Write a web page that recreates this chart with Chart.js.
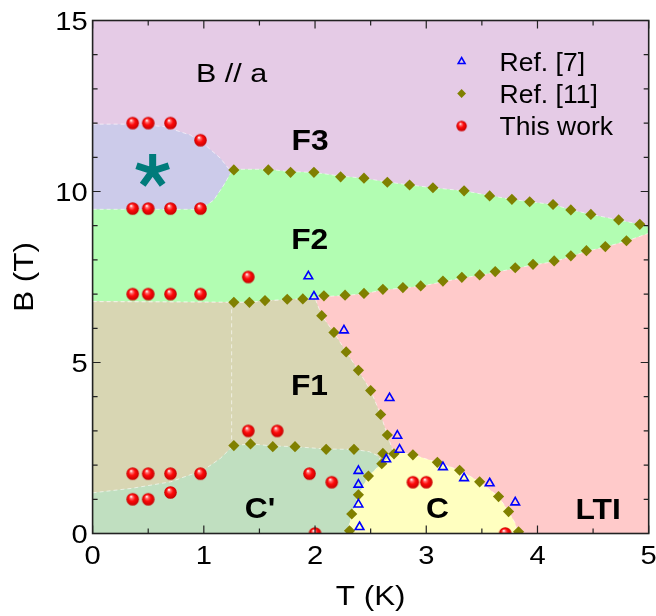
<!DOCTYPE html>
<html>
<head>
<meta charset="utf-8">
<script src="https://cdn.jsdelivr.net/npm/chart.js@4.4.1/dist/chart.umd.min.js"></script>
<style>
  html, body { margin: 0; padding: 0; background: #fff; }
</style>
</head>
<body>
<canvas id="phase" width="656" height="616"></canvas>
<script>
// ---- measured points: temperature T (K), field B (T) ----
const thisWorkT = [0.36, 0.50, 0.70, 0.97, 0.36, 0.50, 0.70, 0.97, 1.40, 0.36, 0.50, 0.70, 0.97,
                   1.40, 1.66, 0.36, 0.50, 0.70, 0.97, 1.95, 2.15, 0.36, 0.50, 0.70, 2.00, 2.88, 3.00, 3.71];
const thisWorkB = [12.0, 12.0, 12.0, 11.5, 9.5, 9.5, 9.5, 9.5, 7.5, 7.0, 7.0, 7.0, 7.0,
                   3.0, 3.0, 1.75, 1.75, 1.75, 1.75, 1.75, 1.5, 1.0, 1.0, 1.2, 0, 1.5, 1.5, 0];

const ref7T = [1.94, 1.99, 2.26, 2.67, 2.74, 2.76, 2.64, 2.39, 2.39, 2.39, 2.40, 3.15, 3.34, 3.57, 3.80];
const ref7B = [7.52, 6.93, 5.94, 3.96, 2.86, 2.45, 2.17, 1.83, 1.43, 0.85, 0.19, 1.94, 1.62, 1.47, 0.91];

const ref11T = [
  // F3 / F2
  1.27, 1.58, 1.78, 1.99, 2.23, 2.44, 2.65, 2.85, 3.06, 3.34, 3.57, 3.77, 3.93, 4.14, 4.30, 4.48, 4.73, 4.92,
  // F2 / F1, F2 / LTI
  1.27, 1.41, 1.55, 1.75, 1.89, 2.08, 2.27, 2.44, 2.61, 2.79, 2.95, 3.15, 3.32, 3.48, 3.62, 3.80, 3.96, 4.15, 4.30, 4.44, 4.61, 4.80,
  // F1 / LTI
  2.06, 2.17, 2.28, 2.39, 2.50, 2.59, 2.65, 2.71, 2.61, 2.60,
  // F1 / C'
  1.27, 1.42, 1.62, 1.82, 2.10, 2.35,
  // C' / C
  2.48, 2.39, 2.33, 2.31,
  // C / LTI
  2.88, 3.10, 3.30, 3.48, 3.65, 3.74, 3.83
];
const ref11B = [
  10.63, 10.63, 10.56, 10.56, 10.43, 10.39, 10.27, 10.19, 10.11, 10.02, 9.87, 9.77, 9.70, 9.62, 9.46, 9.33, 9.17, 9.04,
  6.76, 6.76, 6.81, 6.85, 6.86, 6.95, 6.97, 7.02, 7.14, 7.19, 7.24, 7.38, 7.49, 7.56, 7.66, 7.77, 7.87, 7.97, 8.12, 8.27, 8.39, 8.56,
  6.37, 5.88, 5.31, 4.77, 4.18, 3.48, 2.88, 2.33, 2.34, 2.04,
  2.57, 2.62, 2.54, 2.54, 2.46, 2.46,
  1.68, 1.13, 0.57, 0.08,
  2.30, 2.08, 1.85, 1.51, 1.08, 0.64, 0.05
];

// ---- phase boundaries (upper edge of each shaded phase) ----
const f3TopT = [0, 5];
const f3TopB = [15, 15];

const starTopT = [0, 0.34, 0.64, 0.88, 1.03, 1.15, 1.22, 1.27];
const starTopB = [11.97, 11.97, 11.9, 11.65, 11.31, 10.97, 10.68, 10.63];

const f2TopT = [0, 0.97, 1.09, 1.18, 1.24, 1.27, 1.58, 1.78, 1.99, 2.23, 2.44, 2.65, 2.85, 3.06, 3.34, 3.57, 3.77, 3.93, 4.14, 4.30, 4.48, 4.73, 4.92, 5];
const f2TopB = [9.48, 9.48, 9.75, 10.19, 10.53, 10.65, 10.65, 10.58, 10.56, 10.45, 10.39, 10.28, 10.19, 10.11, 10.02, 9.88, 9.77, 9.70, 9.62, 9.47, 9.33, 9.17, 9.04, 8.97];

const ltiTopT = [0, 1.27, 1.41, 1.55, 1.75, 1.89, 2.08, 2.27, 2.44, 2.61, 2.79, 2.95, 3.15, 3.32, 3.48, 3.62, 3.80, 3.96, 4.15, 4.30, 4.44, 4.61, 4.80, 5];
const ltiTopB = [6.78, 6.76, 6.76, 6.80, 6.84, 6.86, 6.93, 6.96, 7.01, 7.12, 7.18, 7.23, 7.36, 7.47, 7.55, 7.64, 7.75, 7.85, 7.95, 8.10, 8.25, 8.38, 8.55, 8.78];

const f1TopT = [0, 1.27, 1.41, 1.55, 1.75, 1.89, 2.00, 2.06, 2.17, 2.28, 2.39, 2.50, 2.59, 2.65, 2.71];
const f1TopB = [6.78, 6.76, 6.76, 6.80, 6.84, 6.86, 6.88, 6.37, 5.88, 5.31, 4.77, 4.18, 3.48, 2.88, 2.33];

const cpTopT = [0, 0.35, 0.70, 1.00, 1.15, 1.24, 1.27, 1.42, 1.62, 1.82, 2.10, 2.35, 2.49, 2.56, 2.60];
const cpTopB = [1.19, 1.32, 1.51, 1.86, 2.20, 2.49, 2.57, 2.62, 2.56, 2.54, 2.47, 2.46, 2.39, 2.28, 2.10];

const cTopT = [2.29, 2.33, 2.39, 2.48, 2.60, 2.71, 2.80, 2.88, 3.10, 3.30, 3.48, 3.65, 3.74, 3.80, 3.82];
const cTopB = [0, 0.57, 1.13, 1.68, 2.05, 2.33, 2.36, 2.30, 2.08, 1.85, 1.51, 1.08, 0.64, 0.30, 0];

// dashed guide inside F1
const f1GuideT = [1.25, 1.25];
const f1GuideB = [6.76, 2.55];

// axis tick labels
const tTicks = [0, 1, 2, 3, 4, 5];
const bTicks = [0, 5, 10, 15];

const zip = (xs, ys) => xs.map((x, i) => ({ x: x, y: ys[i] }));

function makeBall(r) {
  const size = Math.ceil(r * 2 + 2);
  const c = document.createElement('canvas');
  c.width = c.height = size;
  const g = c.getContext('2d');
  const cx = size / 2, cy = size / 2;
  const grad = g.createRadialGradient(cx - r * 0.25, cy - r * 0.45, r * 0.05, cx, cy, r);
  grad.addColorStop(0, '#ffffff');
  grad.addColorStop(0.2, '#ff7070');
  grad.addColorStop(0.5, '#ff0a0a');
  grad.addColorStop(1, '#c40000');
  g.fillStyle = grad;
  g.beginPath();
  g.arc(cx, cy, r, 0, Math.PI * 2);
  g.fill();
  return c;
}
const ball = makeBall(6.3);
const smallBall = makeBall(5.2);

const OLIVE = '#808000';
const EDGE = 'rgba(255,255,255,0.6)';
const FONT = '"Liberation Sans", Arial, sans-serif';
const SX = 1.12; // the lettering in this figure runs a bit wide

function region(label, xs, ys, color, order) {
  return {
    label: label,
    data: zip(xs, ys),
    fill: 'origin',
    backgroundColor: color,
    borderColor: EDGE,
    borderWidth: 1,
    borderDash: [4, 3],
    pointRadius: 0,
    tension: 0,
    order: order
  };
}

function wideText(ctx, text, x, y, sx, align, rot) {
  ctx.save();
  ctx.translate(x, y);
  if (rot) ctx.rotate(rot);
  ctx.scale(sx, 1);
  ctx.textAlign = align;
  ctx.fillText(text, 0, 0);
  ctx.restore();
}

// ---- annotations, legend, axes ----
const labels = [
  { text: 'B // a', t: 0.93, b: 13.19, font: '25px ', sx: 1.22, align: 'left' },
  { text: 'F3', t: 1.955, b: 11.21, font: 'bold 30px ', sx: 1.06, align: 'center' },
  { text: 'F2', t: 1.952, b: 8.31, font: 'bold 30px ', sx: 1.06, align: 'center' },
  { text: 'F1', t: 1.95, b: 4.05, font: 'bold 30px ', sx: 1.06, align: 'center' },
  { text: "C'", t: 1.505, b: 0.44, font: 'bold 30px ', sx: 1.06, align: 'center' },
  { text: 'C', t: 3.10, b: 0.44, font: 'bold 30px ', sx: 1.06, align: 'center' },
  { text: 'LTI', t: 4.545, b: 0.43, font: 'bold 30px ', sx: 1.06, align: 'center' }
];

const annotate = {
  id: 'annotate',
  afterDatasetsDraw(chart) {
    const { ctx, scales: { x, y } } = chart;
    ctx.save();
    ctx.fillStyle = '#000';
    ctx.textBaseline = 'alphabetic';
    labels.forEach(l => {
      ctx.font = l.font + FONT;
      wideText(ctx, l.text, x.getPixelForValue(l.t), y.getPixelForValue(l.b), l.sx, l.align);
    });

    // five-armed asterisk in the pocket between F3 and F2
    const ax = x.getPixelForValue(0.54), ay = y.getPixelForValue(10.6);
    ctx.strokeStyle = '#007b7b';
    ctx.lineWidth = 7;
    ctx.beginPath();
    for (let k = 0; k < 5; k++) {
      const a = -Math.PI / 2 + k * 2 * Math.PI / 5;
      ctx.moveTo(ax, ay);
      ctx.lineTo(ax + 17 * Math.cos(a), ay + 17 * Math.sin(a));
    }
    ctx.stroke();

    // legend
    const a = chart.chartArea;
    const mx = a.left + 369, tx = a.left + 407;
    const rows = [a.top + 41, a.top + 73, a.top + 105.5];
    ctx.font = '25px ' + FONT;
    const names = ['Ref. [7]', 'Ref. [11]', 'This work'];
    names.forEach((n, i) => wideText(ctx, n, tx, rows[i] + 9, 1.06, 'left'));

    let r = 4;
    ctx.strokeStyle = '#0000ff';
    ctx.lineWidth = 1.5;
    ctx.beginPath();
    ctx.moveTo(mx, rows[0] - r);
    ctx.lineTo(mx + r * 0.87, rows[0] + r / 2);
    ctx.lineTo(mx - r * 0.87, rows[0] + r / 2);
    ctx.closePath();
    ctx.stroke();

    r = 4.4;
    ctx.fillStyle = OLIVE;
    ctx.beginPath();
    ctx.moveTo(mx, rows[1] - r);
    ctx.lineTo(mx + r, rows[1]);
    ctx.lineTo(mx, rows[1] + r);
    ctx.lineTo(mx - r, rows[1]);
    ctx.closePath();
    ctx.fill();

    ctx.drawImage(smallBall, mx - smallBall.width / 2, rows[2] - smallBall.height / 2);
    ctx.restore();
  }
};

const frame = {
  id: 'frame',
  afterDraw(chart) {
    const { ctx, chartArea: a, scales: { x, y } } = chart;
    ctx.save();
    ctx.strokeStyle = '#222';
    ctx.lineWidth = 1.2;
    ctx.beginPath();
    for (let t = 0; t <= 5.001; t += 0.5) {
      const px = x.getPixelForValue(t);
      const len = Math.abs(t - Math.round(t)) < 1e-6 ? 8 : 5;
      ctx.moveTo(px, a.bottom); ctx.lineTo(px, a.bottom - len);
      ctx.moveTo(px, a.top); ctx.lineTo(px, a.top + len);
    }
    for (let b = 0; b <= 15; b += 1) {
      const py = y.getPixelForValue(b);
      const len = b % 5 === 0 ? 8 : 5;
      ctx.moveTo(a.left, py); ctx.lineTo(a.left + len, py);
      ctx.moveTo(a.right, py); ctx.lineTo(a.right - len, py);
    }
    ctx.stroke();
    ctx.lineWidth = 1.6;
    ctx.strokeRect(a.left, a.top, a.right - a.left, a.bottom - a.top);

    // tick labels and axis titles
    ctx.fillStyle = '#000';
    ctx.textBaseline = 'alphabetic';
    ctx.font = '26px ' + FONT;
    tTicks.forEach(t => wideText(ctx, String(t), x.getPixelForValue(t), a.bottom + 30, SX, 'center'));
    bTicks.forEach(b => wideText(ctx, String(b), a.left - 5, y.getPixelForValue(b) + 9.3, SX, 'right'));
    ctx.font = '28px ' + FONT;
    wideText(ctx, 'T (K)', (a.left + a.right) / 2, 605, SX, 'center');
    wideText(ctx, 'B (T)', 33, (a.top + a.bottom) / 2, SX, 'center', -Math.PI / 2);
    ctx.restore();
  }
};

new Chart(document.getElementById('phase'), {
  type: 'line',
  data: {
    datasets: [
      {
        label: 'This work',
        data: zip(thisWorkT, thisWorkB),
        showLine: false,
        pointStyle: ball,
        order: 0
      },
      {
        label: 'Ref. [7]',
        data: zip(ref7T, ref7B),
        showLine: false,
        pointStyle: 'triangle',
        pointRadius: 5,
        pointBorderWidth: 1.6,
        pointBorderColor: '#0000ff',
        pointBackgroundColor: 'rgba(0,0,0,0)',
        order: 1
      },
      {
        label: 'Ref. [11]',
        data: zip(ref11T, ref11B),
        showLine: false,
        pointStyle: 'rectRot',
        pointRadius: 5.6,
        pointBorderWidth: 0,
        pointBackgroundColor: OLIVE,
        order: 2
      },
      {
        label: 'guide',
        data: zip(f1GuideT, f1GuideB),
        borderColor: EDGE,
        borderWidth: 1,
        borderDash: [4, 3],
        pointRadius: 0,
        fill: false,
        order: 9
      },
      region('C', cTopT, cTopB, '#ffffc0', 10),
      region("C'", cpTopT, cpTopB, '#c0dfc0', 11),
      region('F1', f1TopT, f1TopB, '#d8d6b3', 12),
      region('LTI', ltiTopT, ltiTopB, '#ffcaca', 13),
      region('F2', f2TopT, f2TopB, '#b2fdb2', 14),
      region('*', starTopT, starTopB, '#cccbea', 15),
      region('F3', f3TopT, f3TopB, '#e5cbe6', 16)
    ]
  },
  options: {
    responsive: false,
    animation: false,
    layout: { padding: { top: 20.5, right: 7.3, left: 0, bottom: 0 } },
    plugins: {
      legend: { display: false },
      tooltip: { enabled: false }
    },
    scales: {
      x: {
        type: 'linear',
        min: 0,
        max: 5,
        ticks: { display: false, stepSize: 1 },
        grid: { display: false, drawTicks: false },
        border: { display: false },
        afterFit: s => { s.height = 82.5; }
      },
      y: {
        min: 0,
        max: 15,
        ticks: { display: false, stepSize: 5 },
        grid: { display: false, drawTicks: false },
        border: { display: false },
        afterFit: s => { s.width = 92.6; }
      }
    }
  },
  plugins: [annotate, frame]
});
</script>
</body>
</html>
